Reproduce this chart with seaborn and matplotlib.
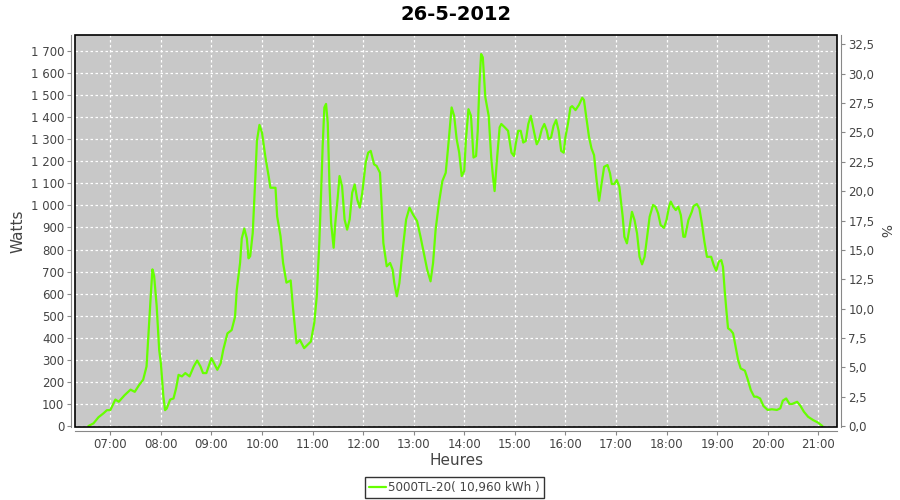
import numpy as np
import pandas as pd
import matplotlib
matplotlib.use("Agg")
import matplotlib.pyplot as plt
import matplotlib.dates as mdates
import matplotlib.ticker as mticker
from matplotlib.patches import Rectangle
import seaborn as sns

DAY = "2012-05-26"
TITLE = "26-5-2012"
SERIES = "5000TL-20( 10,960 kWh )"

TIMES = [
    "06:34", "06:40", "06:46", "06:52", "06:56", "07:00", "07:06", "07:10", "07:17", "07:24",
    "07:29", "07:34", "07:39", "07:43", "07:46", "07:48", "07:50", "07:52", "07:55", "07:58",
    "08:00", "08:03", "08:05", "08:07", "08:11", "08:15", "08:18", "08:21", "08:25", "08:29",
    "08:34", "08:39", "08:43", "08:47", "08:50", "08:54", "08:58", "09:00", "09:04", "09:07",
    "09:11", "09:14", "09:19", "09:24", "09:28", "09:30", "09:34", "09:36", "09:39", "09:42",
    "09:44", "09:46", "09:49", "09:52", "09:54", "09:57", "10:00", "10:04", "10:08", "10:10",
    "10:16", "10:18", "10:22", "10:25", "10:29", "10:34", "10:37", "10:41", "10:45", "10:50",
    "10:58", "11:02", "11:05", "11:08", "11:10", "11:12", "11:14", "11:16", "11:18", "11:20",
    "11:22", "11:25", "11:27", "11:30", "11:32", "11:35", "11:38", "11:41", "11:44", "11:47",
    "11:50", "11:53", "11:56", "11:59", "12:03", "12:06", "12:09", "12:13", "12:16", "12:20",
    "12:22", "12:24", "12:28", "12:32", "12:35", "12:37", "12:40", "12:43", "12:47", "12:51",
    "12:55", "12:59", "13:04", "13:08", "13:12", "13:16", "13:20", "13:23", "13:26", "13:30",
    "13:34", "13:38", "13:41", "13:45", "13:48", "13:51", "13:54", "13:57", "14:00", "14:02",
    "14:05", "14:08", "14:11", "14:14", "14:16", "14:18", "14:20", "14:22", "14:25", "14:29",
    "14:32", "14:34", "14:36", "14:39", "14:42", "14:44", "14:48", "14:52", "14:56", "14:59",
    "15:01", "15:04", "15:07", "15:10", "15:13", "15:16", "15:19", "15:23", "15:26", "15:29",
    "15:32", "15:35", "15:38", "15:40", "15:43", "15:46", "15:49", "15:52", "15:55", "15:58",
    "16:00", "16:03", "16:06", "16:08", "16:12", "16:16", "16:20", "16:22", "16:25", "16:28",
    "16:31", "16:34", "16:37", "16:40", "16:43", "16:46", "16:50", "16:53", "16:55", "16:58",
    "17:01", "17:04", "17:08", "17:10", "17:13", "17:16", "17:19", "17:22", "17:25", "17:28",
    "17:31", "17:34", "17:37", "17:40", "17:44", "17:47", "17:50", "17:53", "17:57", "18:00",
    "18:03", "18:05", "18:08", "18:11", "18:14", "18:17", "18:20", "18:22", "18:26", "18:30",
    "18:32", "18:36", "18:39", "18:42", "18:45", "18:48", "18:53", "18:56", "18:59", "19:02",
    "19:05", "19:07", "19:09", "19:11", "19:13", "19:16", "19:19", "19:22", "19:25", "19:28",
    "19:33", "19:36", "19:40", "19:44", "19:47", "19:51", "19:55", "20:00", "20:05", "20:11",
    "20:15", "20:18", "20:22", "20:26", "20:29", "20:35", "20:39", "20:43", "20:48", "20:54",
    "21:00", "21:05",
]

WATTS = [
    0, 12, 40, 58, 72, 72, 120, 110, 140, 165,
    155, 185, 210, 270, 465, 590, 710, 680, 545, 345,
    285, 133, 72, 80, 120, 125, 170, 232, 225, 240,
    225, 270, 297, 270, 240, 240, 285, 308, 278, 255,
    285, 345, 420, 435, 495, 615, 740, 850, 895, 850,
    760, 770, 875, 1118, 1293, 1365, 1330, 1220, 1130, 1080,
    1080, 950, 860, 740, 650, 660, 527, 375, 390, 353,
    383, 467, 588, 830, 1042, 1270, 1444, 1460, 1375, 1103,
    921, 808, 921, 1042, 1133, 1088, 936, 890, 936, 1057,
    1095, 1027, 990, 1057, 1193, 1239, 1247, 1186, 1179, 1148,
    997, 830, 724, 739, 709, 648, 588, 648, 800, 936,
    990, 960, 929, 860, 785, 709, 656, 739, 890, 1012,
    1110, 1148, 1270, 1444, 1406, 1300, 1239, 1133, 1156, 1300,
    1436, 1406, 1217, 1224, 1338, 1550, 1686, 1671, 1490, 1406,
    1217, 1133, 1065, 1217, 1354, 1369, 1354, 1338, 1239, 1224,
    1277, 1338, 1338, 1285, 1292, 1369, 1406, 1330, 1277, 1300,
    1345, 1369, 1338, 1300, 1308, 1361, 1387, 1338, 1247, 1239,
    1308, 1369, 1444, 1450, 1432, 1455, 1488, 1478, 1395, 1311,
    1258, 1228, 1115, 1021, 1100, 1175, 1183, 1145, 1097, 1097,
    1115, 1085, 949, 858, 828, 896, 971, 934, 874, 767,
    733, 767, 858, 949, 1002, 994, 964, 911, 898, 934,
    994, 1017, 994, 979, 994, 956, 858, 858, 934, 971,
    997, 1006, 986, 918, 835, 767, 767, 730, 704, 745,
    752, 722, 616, 526, 443, 435, 420, 360, 299, 261,
    251, 216, 163, 133, 133, 125, 91, 73, 76, 73,
    80, 115, 125, 100, 100, 110, 91, 65, 42, 27,
    15, 0,
]

W_MAX = 1771
PCT_PER_W = 33.27 / 1771   # right axis (%) scale
LINE = "#66ff00"
PLOT_BG = "#c8c8c8"
TXT = "#444444"
AXC = "#888888"

df = pd.DataFrame({"time": pd.to_datetime([f"{DAY} {t}" for t in TIMES]),
                   "watts": WATTS})

sns.set_style("white")
plt.rcParams["font.family"] = ["DejaVu Sans"]

fig = plt.figure(figsize=(9, 5), dpi=100)
ax = fig.add_axes([0.0837, 0.1466, 0.8468, 0.7828])
ax.set_facecolor(PLOT_BG)

sns.lineplot(data=df, x="time", y="watts", ax=ax, color=LINE, lw=1.6,
             label=SERIES, legend=False, zorder=3)

ax.set_xlim(pd.Timestamp(f"{DAY} 06:18:30"), pd.Timestamp(f"{DAY} 21:22:50"))
ax.set_ylim(-3, W_MAX)
ax.xaxis.set_major_locator(mdates.HourLocator())
ax.xaxis.set_major_formatter(mdates.DateFormatter("%H:%M"))
ax.yaxis.set_major_locator(mticker.MultipleLocator(100))
ax.yaxis.set_major_formatter(
    mticker.FuncFormatter(lambda v, p: f"{int(v):,}".replace(",", " ")))
ax.grid(True, color="white", lw=0.9, ls=(0, (2, 2)))

off = 4 * 72 / 100
for side in ["left", "bottom"]:
    ax.spines[side].set_position(("outward", off))
    ax.spines[side].set_color(AXC)
for side in ["top", "right"]:
    ax.spines[side].set_visible(False)
ax.tick_params(axis="both", direction="out", length=3, width=0.8, color=AXC,
               labelcolor=TXT, labelsize=8.5, pad=2, left=True, bottom=True)

ax.set_xlabel("Heures", color=TXT, fontsize=11, labelpad=2)
ax.set_ylabel("Watts", color=TXT, fontsize=11, labelpad=4)
ax.set_title(TITLE, fontsize=14, fontweight="bold", color="black", pad=11)

ax2 = ax.twinx()
ax2.set_ylim(-3 * PCT_PER_W, W_MAX * PCT_PER_W)
ax2.yaxis.set_major_locator(mticker.MultipleLocator(2.5))
ax2.yaxis.set_major_formatter(
    mticker.FuncFormatter(lambda v, p: f"{v:.1f}".replace(".", ",")))
for side in ["left", "top", "bottom"]:
    ax2.spines[side].set_visible(False)
ax2.spines["right"].set_position(("outward", off))
ax2.spines["right"].set_color(AXC)
ax2.tick_params(axis="y", direction="out", length=3, width=0.8, color=AXC,
                labelcolor=TXT, labelsize=8.5, pad=2)
ax2.set_ylabel("%", color=TXT, fontsize=10, labelpad=12, rotation=270)

ax.add_patch(Rectangle((0, 0), 1, 1, transform=ax.transAxes, fill=False,
                       edgecolor="black", lw=1.2, clip_on=False, zorder=10))

handles, labels = ax.get_legend_handles_labels()
leg = fig.legend(handles, labels, loc="lower center", bbox_to_anchor=(0.505, 0.0),
                 fontsize=8.6, frameon=True, fancybox=False, edgecolor="black",
                 borderpad=0.35, borderaxespad=0.15, handlelength=1.4,
                 handletextpad=0.2, labelcolor=TXT)
leg.get_frame().set_linewidth(1.0)

fig.savefig("out.png", dpi=100, facecolor="white")
